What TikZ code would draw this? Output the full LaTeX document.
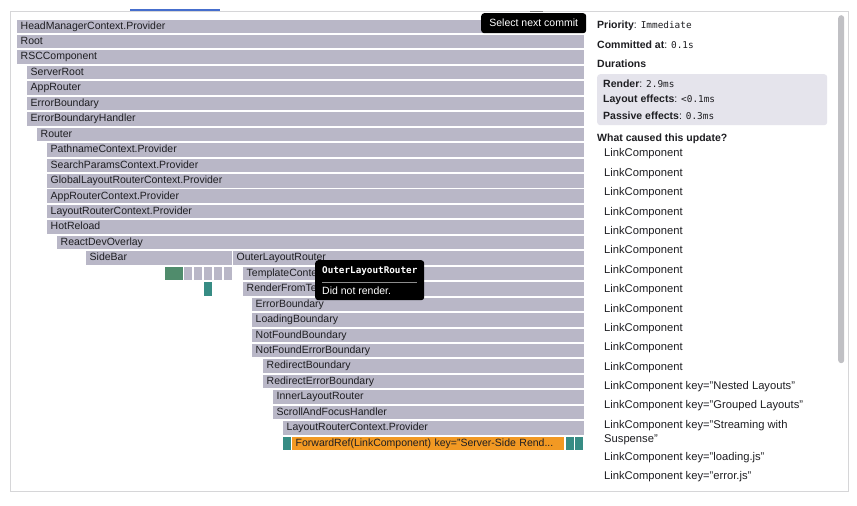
\documentclass[tikz,border=0pt]{standalone}
\usepackage{fontspec}
\setmainfont{Liberation Sans}
\setmonofont{DejaVu Sans Mono}
\usepackage{xcolor}
\usetikzlibrary{positioning}

\definecolor{barfill}{RGB}{185,183,199}
\definecolor{ink}{RGB}{30,30,34}
\definecolor{boxfill}{RGB}{229,228,236}
\definecolor{leafgreen}{RGB}{80,140,108}
\definecolor{leafteal}{RGB}{55,140,132}
\definecolor{hotorange}{RGB}{242,153,35}
\definecolor{framegray}{RGB}{214,214,216}
\definecolor{tabblue}{RGB}{70,110,205}
\definecolor{scrollgray}{RGB}{192,192,196}

\newcommand{\mono}[1]{{\fontsize{9.4}{11}\selectfont\ttfamily #1}}

\begin{document}
\begin{tikzpicture}[x=1pt, y=-1pt, font=\fontsize{10.5}{12}\selectfont, text=ink,
    bar/.style={fill=barfill, anchor=north west, inner xsep=3.5pt, inner ysep=0pt, minimum height=13.5pt, align=left, text height=7.8pt, text depth=2.2pt},
    cell/.style={fill=#1, anchor=north west, inner sep=0pt, minimum width=8pt, minimum height=13.5pt},
    info/.style={anchor=west, inner sep=0pt, text height=7.8pt, text depth=2.2pt},
    cause/.style={anchor=west, inner sep=0pt, font=\fontsize{11.2}{13.8}\selectfont, text height=8.2pt, text depth=2.4pt},
    causewrap/.style={anchor=north west, inner sep=0pt, align=left, font=\fontsize{11.2}{13.8}\selectfont},
    tip/.style={fill=black, rounded corners=3pt, anchor=north west, inner sep=0pt}]
    \useasboundingbox (0,0) rectangle (857,506);
    \fill [white] (0,0) rectangle (857,506);

    \draw [framegray, line width=0.8pt] (10,11) rectangle (848,491);
    \draw [tabblue, line width=1.5pt] (130,10) -- (220,10);
    \draw [gray, line width=1pt] (530,11.5) -- (543,11.5);

    \node (head) [bar, text width=560pt] at (17,19.3) {HeadManagerContext.Provider};
    \node (root) [bar, text width=560pt] at (17,34.75) {Root};
    \node (rsc) [bar, text width=560pt] at (17,50.2) {RSCComponent};
    \node (serverroot) [bar, text width=550pt] at (27,65.65) {ServerRoot};
    \node (approuter) [bar, text width=550pt] at (27,81.1) {AppRouter};
    \node (errbound) [bar, text width=550pt] at (27,96.55) {ErrorBoundary};
    \node (errhandler) [bar, text width=550pt] at (27,112) {ErrorBoundaryHandler};
    \node (router) [bar, text width=540pt] at (37,127.45) {Router};
    \node (pathname) [bar, text width=530pt] at (47,142.9) {PathnameContext.Provider};
    \node (searchparams) [bar, text width=530pt] at (47,158.35) {SearchParamsContext.Provider};
    \node (globallayout) [bar, text width=530pt] at (47,173.8) {GlobalLayoutRouterContext.Provider};
    \node (approuterctx) [bar, text width=530pt] at (47,189.25) {AppRouterContext.Provider};
    \node (layoutctx) [bar, text width=530pt] at (47,204.7) {LayoutRouterContext.Provider};
    \node (hotreload) [bar, text width=530pt] at (47,220.15) {HotReload};
    \node (devoverlay) [bar, text width=520pt] at (57,235.6) {ReactDevOverlay};
    \node (sidebar) [bar, text width=139pt] at (86,251.05) {SideBar};
    \node (outer) [bar, text width=344pt] at (233,251.05) {OuterLayoutRouter};

    \node (green) [cell=leafgreen, minimum width=18pt] at (165,266.5) {};
    \node (cella) [cell=barfill] at (184,266.5) {};
    \node (cellb) [cell=barfill] at (194,266.5) {};
    \node (cellc) [cell=barfill] at (204,266.5) {};
    \node (celld) [cell=barfill] at (214,266.5) {};
    \node (celle) [cell=barfill] at (224,266.5) {};
    \node (template) [bar, text width=334pt] at (243,266.5) {TemplateConte};
    \node (teal) [cell=leafteal] at (204,281.95) {};
    \node (renderfrom) [bar, text width=334pt] at (243,281.95) {RenderFromTe};

    \node (errbound2) [bar, text width=325pt] at (252,297.4) {ErrorBoundary};
    \node (loading) [bar, text width=325pt] at (252,312.85) {LoadingBoundary};
    \node (notfound) [bar, text width=325pt] at (252,328.3) {NotFoundBoundary};
    \node (notfounderr) [bar, text width=325pt] at (252,343.75) {NotFoundErrorBoundary};
    \node (redirect) [bar, text width=314pt] at (263,359.2) {RedirectBoundary};
    \node (redirecterr) [bar, text width=314pt] at (263,374.65) {RedirectErrorBoundary};
    \node (inner) [bar, text width=304pt] at (273,390.1) {InnerLayoutRouter};
    \node (scrollfocus) [bar, text width=304pt] at (273,405.55) {ScrollAndFocusHandler};
    \node (layoutctx2) [bar, text width=294pt] at (283,421) {LayoutRouterContext.Provider};
    \node (tealleft) [cell=leafteal] at (283,436.45) {};
    \node (fwdref) [bar, fill=hotorange, text width=265pt] at (292,436.45) {ForwardRef(LinkComponent) key="Server-Side Rend...};
    \node (tealright) [cell=leafteal] at (566,436.45) {};
    \node (tealend) [cell=leafteal] at (575,436.45) {};

    \node (nexttip) [tip, minimum width=105pt, minimum height=20pt, text=white] at (481,13) {Select next commit};
    \node (outertip) [tip, minimum width=109pt, minimum height=40pt] at (315,260) {};
    \node (tiptitle) [info, text=white, font=\fontsize{9.3}{11}\selectfont\ttfamily\bfseries] at (322,271) {OuterLayoutRouter};
    \node (tipbody) [info, text=white] at (322,292) {Did not render.};
    \draw [black!45!white] (322,282) -- (417,282);

    \node (priority) [info] at (597,25.7) {\textbf{Priority}: \mono{Immediate}};
    \node (committed) [info] at (597,45.7) {\textbf{Committed at}: \mono{0.1s}};
    \node (durations) [info] at (597,64.3) {\textbf{Durations}};
    \node (durbox) [fill=boxfill, rounded corners=3pt, anchor=north west, minimum width=230pt, minimum height=51pt, inner sep=0pt] at (597,74) {};
    \node (render) [info] at (603,84.3) {\textbf{Render}: \mono{2.9ms}};
    \node (layouteff) [info] at (603,100) {\textbf{Layout effects}: \mono{<0.1ms}};
    \node (passiveeff) [info] at (603,116.7) {\textbf{Passive effects}: \mono{0.3ms}};
    \node (reason) [info] at (597,138.3) {\textbf{What caused this update?}};

    \foreach \i in {0,...,11}
        \node (link\i) [cause] at (604,154+19.4*\i) {LinkComponent};
    \node (nested) [cause] at (604,386.8) {LinkComponent key="Nested Layouts"};
    \node (grouped) [cause] at (604,405.7) {LinkComponent key="Grouped Layouts"};
    \node (streaming) [causewrap] at (604,420.5) {LinkComponent key="Streaming with\\Suspense"};
    \node (loadingjs) [cause] at (604,457.5) {LinkComponent key="loading.js"};
    \node (errorjs) [cause] at (604,476.5) {LinkComponent key="error.js"};

    \node (scrollbar) [fill=scrollgray, rounded corners=3pt, anchor=north west, inner sep=0pt, minimum width=6pt, minimum height=348pt] at (838,15) {};
\end{tikzpicture}
\end{document}
